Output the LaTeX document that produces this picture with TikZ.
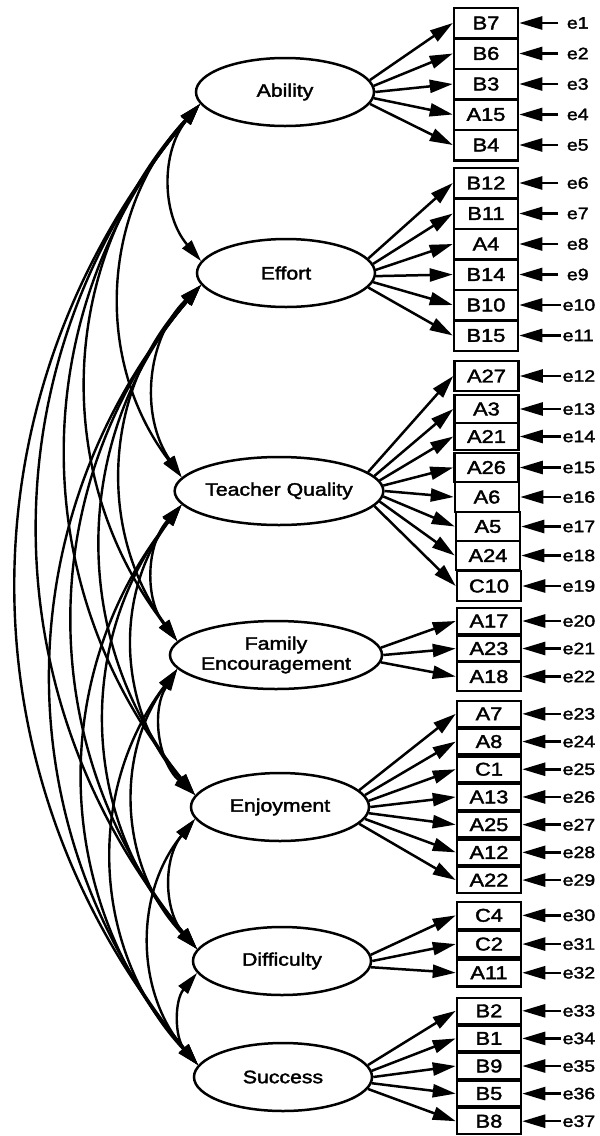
\documentclass[tikz,border=0pt]{standalone}
\usepackage{fontspec}
\setmainfont{Liberation Sans}[FakeStretch=1.18,FakeBold=2]
\usetikzlibrary{arrows.meta,shapes.geometric}
\tikzset{
  latent/.style={ellipse, draw, line width=2.5pt, fill=white, inner sep=0pt,
    minimum width=178pt, minimum height=68pt, align=center,
    font=\fontsize{18}{20}\selectfont},
  obsbox/.style={rectangle, draw, line width=2.5pt, fill=white, inner sep=0pt,
    minimum width=64pt, font=\fontsize{18.5}{18}\selectfont},
  errlab/.style={anchor=west, inner xsep=1.5pt, inner ysep=0pt, font=\fontsize{16.5}{16}\selectfont},
  errone/.style={errlab, inner xsep=8.5pt},
  loadarr/.style={line width=2.5pt, -{Triangle[length=23pt,width=13pt]}},
  errarr/.style={line width=2.5pt, -{Triangle[length=23pt,width=13pt]}},
  covarr/.style={line width=2.4pt, {Triangle[length=22pt,width=12pt]}-{Triangle[length=22pt,width=12pt]}, bend right=40}
}
\begin{document}
\begin{tikzpicture}[x=1pt,y=-1pt]
\useasboundingbox (0,0) rectangle (600,1136);

% latent variables
\node[latent] (Ab) at (285,92) {Ability};
\node[latent] (Ef) at (286,273) {Effort};
\node[latent] (TQ) at (279,491) {Teacher Quality};
\node[latent] (FE) at (276,655) {Family\\Encouragement};
\node[latent] (En) at (280,807) {Enjoyment};
\node[latent] (Di) at (282,961) {Difficulty};
\node[latent] (Su) at (283,1077) {Success};

% covariances
\foreach \u/\l in {Ab/Ef,Ab/TQ,Ab/FE,Ab/En,Ab/Di,Ab/Su,
                   Ef/TQ,Ef/FE,Ef/En,Ef/Di,Ef/Su,
                   TQ/FE,TQ/En,TQ/Di,TQ/Su,
                   FE/En,FE/Di,FE/Su,
                   En/Di,En/Su,
                   Di/Su}
  \draw[covarr] (\u.188) to (\l.172);

% observed variables: Ability
\foreach \n/\y in {B7/23,B6/53.5,B3/84,A15/114.5,B4/145}
  \node[obsbox, minimum height=30.5pt] (\n) at (486,\y) {\n};
% Effort
\foreach \n/\y in {B12/183,B11/213.5,A4/244,B14/274.5,B10/305,B15/335.5}
  \node[obsbox, minimum height=30.5pt] (\n) at (486,\y) {\n};
% Teacher Quality
\foreach \n/\x/\y/\h in {A27/486.5/376/30,A3/486.5/409/28,A21/486.5/436.5/27,A26/486.5/467.5/29,
                         A6/487/497/30,A5/488/526.5/29,A24/488/555.5/29,C10/489/586/30}
  \node[obsbox, minimum height=\h pt] (\n) at (\x,\y) {\n};
% Family Encouragement
\foreach \n/\y/\h in {A17/621/26,A23/648.5/25,A18/676.5/29}
  \node[obsbox, minimum height=\h pt] (\n) at (489,\y) {\n};
% Enjoyment
\foreach \n/\y in {A7/713.85,A8/741.55,C1/769.25,A13/796.95,A25/824.65,A12/852.35,A22/880.05}
  \node[obsbox, minimum height=26pt] (\n) at (489,\y) {\n};
% Difficulty
\foreach \n/\y in {C4/915.35,C2/944.05,A11/972.75}
  \node[obsbox, minimum height=27pt] (\n) at (489,\y) {\n};
% Success
\foreach \n/\y in {B2/1010.8,B1/1038.4,B9/1066,B5/1093.6,B8/1121.2}
  \node[obsbox, minimum height=26pt] (\n) at (489,\y) {\n};

% loadings (start near the east end of each ellipse)
\foreach \n/\a in {B7/8,B6/4,B3/0,A15/-4,B4/-8} \draw[loadarr] (Ab.\a) -- (\n.west);
\foreach \n/\a in {B12/10,B11/6,A4/2,B14/-2,B10/-6,B15/-10} \draw[loadarr] (Ef.\a) -- (\n.west);
\foreach \n/\a in {A27/12,A3/9,A21/6,A26/3,A6/0,A5/-3,A24/-6,C10/-9} \draw[loadarr] (TQ.\a) -- (\n.west);
\foreach \n/\a in {A17/4,A23/0,A18/-4} \draw[loadarr] (FE.\a) -- (\n.west);
\foreach \n/\a in {A7/12,A8/8,C1/4,A13/0,A25/-4,A12/-8,A22/-12} \draw[loadarr] (En.\a) -- (\n.west);
\foreach \n/\a in {C4/4,C2/0,A11/-4} \draw[loadarr] (Di.\a) -- (\n.west);
\foreach \n/\a in {B2/8,B1/4,B9/0,B5/-4,B8/-8} \draw[loadarr] (Su.\a) -- (\n.west);

% error terms
\foreach \n/\i in {B7/1,B6/2,B3/3,A15/4,B4/5,B12/6,B11/7,A4/8,B14/9}{
  \node[errone] (e\i) at ([xshift=39pt]\n.east) {e\i};
  \draw[errarr] (e\i.west) -- (\n.east);}
\foreach \n/\i in {B10/10,B15/11,A27/12,A3/13,A21/14,A26/15,A6/16,A5/17,A24/18,C10/19,
                  A17/20,A23/21,A18/22,A7/23,A8/24,C1/25,A13/26,A25/27,A12/28,A22/29,
                  C4/30,C2/31,A11/32,B2/33,B1/34,B9/35,B5/36,B8/37}{
  \node[errlab] (e\i) at (561,0 |- \n.east) {e\i};
  \draw[errarr] (e\i.west) -- (\n.east);}
\end{tikzpicture}
\end{document}
